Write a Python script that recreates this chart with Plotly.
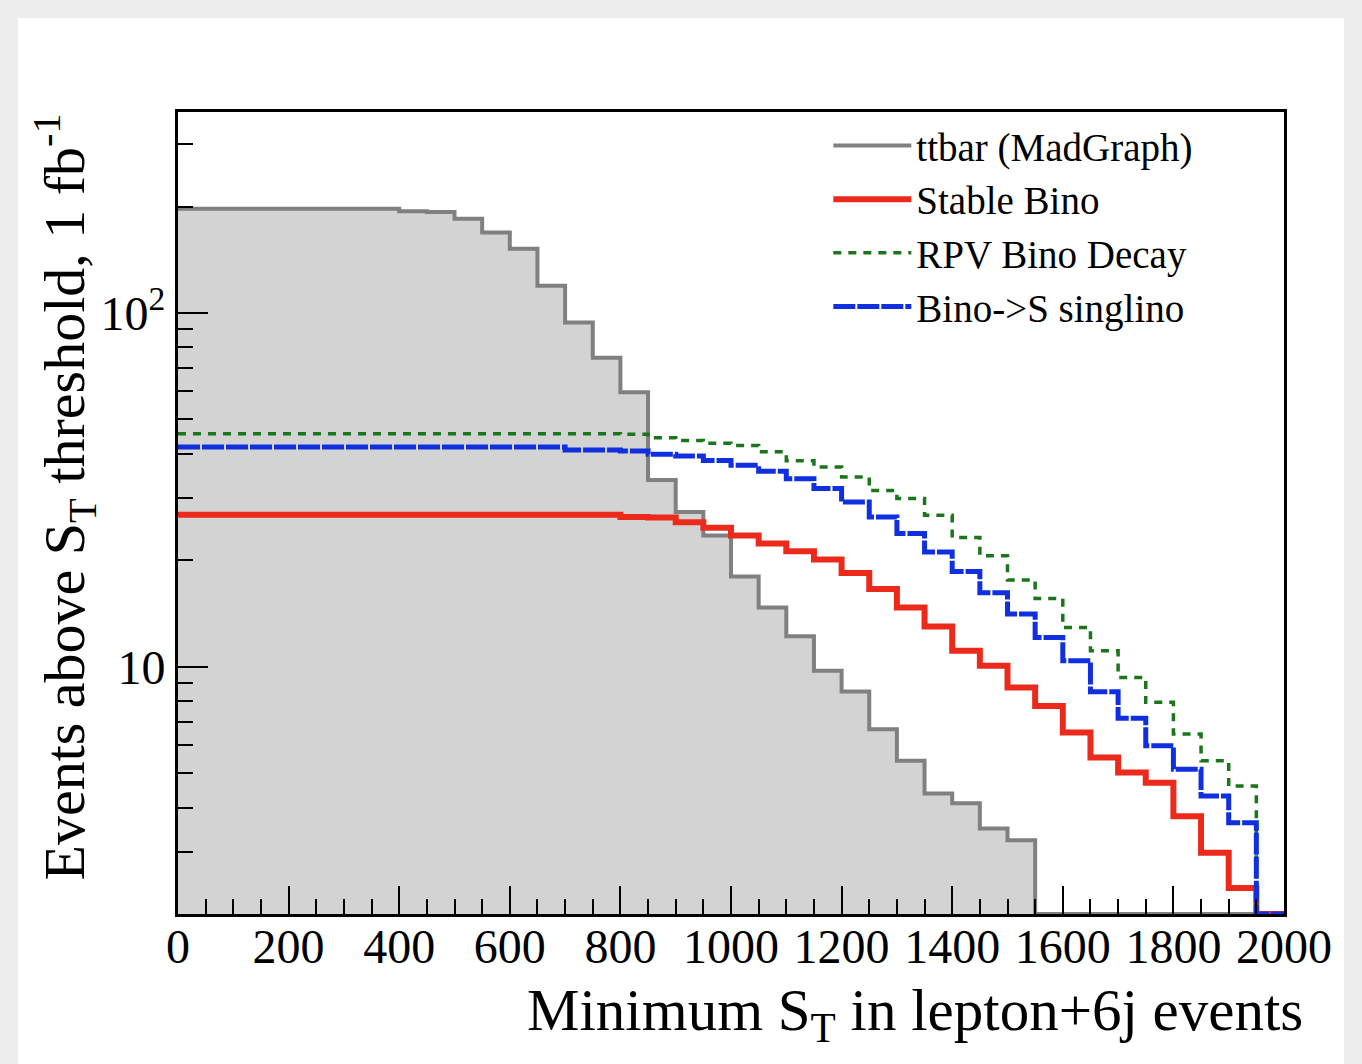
import numpy as np
import plotly.graph_objects as go

# ---------------- data ----------------
bin_edges = list(range(0, 2001, 50))  # 40 bins of width 50

ttbar = [197, 197, 197, 197, 197, 197, 197, 197, 194, 193,
         184.6, 169, 152, 119.5, 94, 74.7, 59.7, 33.7, 27.4, 23.5,
         18.0, 14.7, 12.2, 9.75, 8.51, 6.66, 5.42, 4.38, 4.11, 3.49,
         3.23, 0, 0, 0, 0, 0, 0, 0, 0, 0]

stable_bino = [26.9] * 16 + [26.5, 26.4, 25.6, 24.7,
               23.5, 22.3, 21.2, 20.1, 18.4, 16.6, 14.7, 13.0, 11.1, 10.07,
               8.74, 7.75, 6.52, 5.54, 5.02, 4.70, 3.78, 2.98, 2.37, 0]

rpv_bino = [45.6] * 16 + [45.4, 44.4, 43.6, 42.8,
            42.2, 40.5, 38.2, 36.7, 34.4, 31.5, 29.9, 26.8, 23.2, 20.6,
            17.6, 15.6, 12.9, 11.1, 9.33, 7.93, 6.45, 5.42, 4.60, 0]

bino_singlino = [41.8] * 14 + [41.0, 41.0, 40.7, 39.9, 39.4, 38.3,
                 37.1, 35.7, 34.0, 31.9, 29.2, 26.5, 23.8, 21.1, 18.6, 16.2,
                 14.1, 12.1, 10.4, 8.5, 7.15, 5.98, 5.13, 4.31, 3.62, 0]

y_min, y_max = 2.0, 370.0
y_major = [10, 100]
y_major_text = ["10", "10<sup>2</sup>"]
y_minor = [3, 4, 5, 6, 7, 8, 9, 20, 30, 40, 50, 60, 70, 80, 90, 200, 300]

names = ["ttbar (MadGraph)", "Stable Bino", "RPV Bino Decay", "Bino->S singlino"]

FONT = "Liberation Serif"


def step_xy(values):
    # ROOT draws empty / below-minimum bins on the axis floor
    v = np.maximum(np.asarray(values, dtype=float), y_min)
    x = list(bin_edges)
    y = list(v) + [v[-1]]
    return x, y


fig = go.Figure()

# ttbar filled area (no legend entry)
x, y = step_xy(ttbar)
fig.add_trace(go.Scatter(x=x, y=y, mode="lines", line=dict(shape="hv", width=0),
                         fill="tozeroy", fillcolor="#d3d3d3", showlegend=False,
                         hoverinfo="skip"))
fig.add_trace(go.Scatter(x=x, y=y, mode="lines", name=names[0],
                         line=dict(shape="hv", color="#808080", width=4)))

x, y = step_xy(stable_bino)
fig.add_trace(go.Scatter(x=x, y=y, mode="lines", name=names[1],
                         line=dict(shape="hv", color="#ec2a1c", width=6)))

x, y = step_xy(rpv_bino)
fig.add_trace(go.Scatter(x=x, y=y, mode="lines", name=names[2],
                         line=dict(shape="hv", color="#1b751b", width=3.5,
                                   dash="8px,7px")))

x, y = step_xy(bino_singlino)
fig.add_trace(go.Scatter(x=x, y=y, mode="lines", name=names[3],
                         line=dict(shape="hv", color="#1030e0", width=5,
                                   dash="22px,2px")))

fig.update_layout(
    width=1362, height=1064,
    margin=dict(l=178, r=78, t=112, b=150),
    paper_bgcolor="#ededed",
    plot_bgcolor="white",
    font=dict(family=FONT, color="black"),
    showlegend=True,
    legend=dict(x=0.588, y=0.998, xanchor="left", yanchor="top",
                bgcolor="rgba(0,0,0,0)", font=dict(family=FONT, size=39),
                itemwidth=78, tracegroupgap=0),
    shapes=[dict(type="rect", xref="paper", yref="paper",
                 x0=(18 - 178) / 1106, x1=(1344 - 178) / 1106,
                 y0=(914 - 1070) / 802, y1=(914 - 18) / 802,
                 fillcolor="white", line=dict(width=0), layer="below")],
    annotations=[
        dict(text="Minimum S<sub>T</sub> in lepton+6j events", xref="paper", yref="paper",
             x=(1305 - 178) / 1106, y=(914 - 1014) / 802, xanchor="right", yanchor="middle",
             showarrow=False, font=dict(family=FONT, size=59, color="black")),
        dict(text="Events above S<sub>T</sub> threshold, 1 fb<sup>-1</sup>", xref="paper", yref="paper",
             x=(64 - 178) / 1106, y=1.0, xanchor="center", yanchor="top", textangle=-90,
             showarrow=False, font=dict(family=FONT, size=58, color="black")),
    ],
)

fig.update_xaxes(
    range=[0, 2000], showgrid=False, zeroline=False,
    showline=True, linecolor="black", linewidth=3, mirror=True,
    ticks="inside", ticklen=28, tickwidth=2, tickcolor="black",
    tick0=0, dtick=200, tickfont=dict(family=FONT, size=48, color="black"),
    ticklabelstandoff=-12,
    minor=dict(ticks="inside", ticklen=15, tickwidth=2, tickcolor="black", dtick=50, showgrid=False),
)

fig.update_yaxes(
    type="log", range=[np.log10(y_min), np.log10(y_max)], showgrid=False, zeroline=False,
    showline=True, linecolor="black", linewidth=3, mirror=True,
    ticks="inside", ticklen=30, tickwidth=2, tickcolor="black",
    tickvals=y_major, ticktext=y_major_text,
    tickfont=dict(family=FONT, size=48, color="black"),
    minor=dict(ticks="inside", ticklen=15, tickwidth=2, tickcolor="black",
               tickvals=y_minor, showgrid=False),
)

fig.write_html("out.html")
